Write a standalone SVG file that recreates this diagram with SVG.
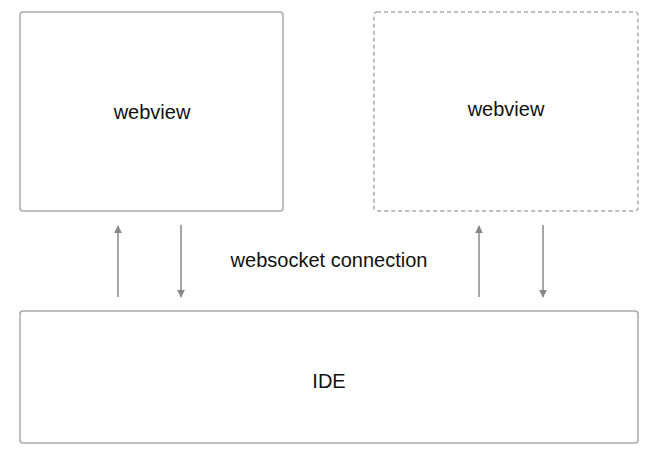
<svg xmlns="http://www.w3.org/2000/svg" width="664" height="470" viewBox="0 0 664 470">
<style>
.box{fill:#fff;stroke:#aaaaaa;stroke-width:1.5}
.dash{stroke-dasharray:4 3}
.lbl{font-family:"Liberation Sans",Arial,sans-serif;font-size:20px;fill:#111;text-anchor:middle}
.conn{stroke:#888;stroke-width:1.5;fill:none}
</style>
<defs>
<marker id="ah" viewBox="0 0 10 10" refX="9" refY="5" markerWidth="8" markerHeight="8" markerUnits="userSpaceOnUse" orient="auto">
<path d="M0,0 L10,5 L0,10 z" fill="#888"/>
</marker>
</defs>
<rect width="664" height="470" fill="#fff"/>
<g id="webview1">
<rect class="box" x="20" y="12" width="263" height="199" rx="3"/>
<text class="lbl" x="152" y="119">webview</text>
</g>
<g id="webview2">
<rect class="box dash" x="374" y="12" width="264" height="199" rx="3"/>
<text class="lbl" x="506" y="116">webview</text>
</g>
<g id="ide">
<rect class="box" x="20" y="311" width="618" height="132" rx="3"/>
<text class="lbl" x="329" y="388">IDE</text>
</g>
<g id="connectors">
<line class="conn" x1="118" y1="297" x2="118" y2="226" marker-end="url(#ah)"/>
<line class="conn" x1="181" y1="225" x2="181" y2="297" marker-end="url(#ah)"/>
<line class="conn" x1="479" y1="297" x2="479" y2="226" marker-end="url(#ah)"/>
<line class="conn" x1="543" y1="225" x2="543" y2="297" marker-end="url(#ah)"/>
<text class="lbl" x="329" y="267">websocket connection</text>
</g>
</svg>
